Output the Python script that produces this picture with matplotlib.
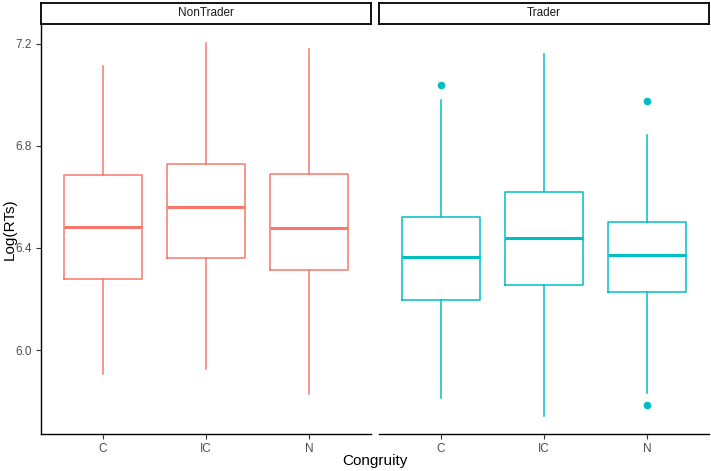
import matplotlib
matplotlib.use("Agg")
import matplotlib.pyplot as plt

plt.rcParams['font.family'] = ['Liberation Sans', 'DejaVu Sans']

# facet / category labels
panels = ['NonTrader', 'Trader']
categories = ['C', 'IC', 'N']
colors = {'NonTrader': '#F8766D', 'Trader': '#00BFC4'}

# box statistics (log RT)
whislo = {'NonTrader': [5.907, 5.924, 5.826], 'Trader': [5.813, 5.741, 5.833]}
q1 = {'NonTrader': [6.277, 6.360, 6.315], 'Trader': [6.195, 6.256, 6.226]}
med = {'NonTrader': [6.482, 6.561, 6.480], 'Trader': [6.363, 6.439, 6.371]}
q3 = {'NonTrader': [6.686, 6.731, 6.689], 'Trader': [6.520, 6.620, 6.503]}
whishi = {'NonTrader': [7.112, 7.204, 7.179], 'Trader': [6.982, 7.162, 6.842]}
fliers = {'NonTrader': [[], [], []], 'Trader': [[7.040], [], [6.978, 5.783]]}

yticks = [6.0, 6.4, 6.8, 7.2]

W, H = 711, 471
fig = plt.figure(figsize=(W / 100, H / 100), dpi=100)

panel_left = [41, 379]
panel_w = 330
panel_top, panel_bot = 24, 434
strip_top = 3

for k, name in enumerate(panels):
    x0 = panel_left[k]
    ax = fig.add_axes([x0 / W, (H - panel_bot) / H, panel_w / W, (panel_bot - panel_top) / H])
    col = colors[name]
    stats = []
    for i in range(3):
        stats.append(dict(whislo=whislo[name][i], q1=q1[name][i], med=med[name][i],
                          q3=q3[name][i], whishi=whishi[name][i], fliers=fliers[name][i]))
    ax.bxp(stats, positions=[1, 2, 3], widths=0.75, showcaps=False,
           boxprops=dict(color=col, linewidth=1.1),
           whiskerprops=dict(color=col, linewidth=1.1),
           medianprops=dict(color=col, linewidth=2.2),
           flierprops=dict(marker='o', markerfacecolor=col, markeredgecolor=col,
                           markersize=4.5, linestyle='none'))
    ax.set_xlim(0.4, 3.6)
    ax.set_ylim(5.6706, 7.2784)
    ax.set_xticks([1, 2, 3])
    ax.set_xticklabels(categories)
    ax.set_yticks(yticks)
    for s in ['top', 'right']:
        ax.spines[s].set_visible(False)
    ax.spines['bottom'].set_linewidth(1.0)
    ax.spines['left'].set_linewidth(1.0)
    ax.tick_params(axis='both', length=3.5, width=0.8, color='#333333',
                   labelcolor='#4D4D4D', labelsize=8.5, pad=3)
    if k == 0:
        ax.set_yticklabels(['6.0', '6.4', '6.8', '7.2'])
    else:
        ax.spines['left'].set_visible(False)
        ax.tick_params(axis='y', left=False, labelleft=False)

    # strip
    sax = fig.add_axes([x0 / W, (H - panel_top) / H, panel_w / W, (panel_top - strip_top) / H])
    sax.set_xticks([])
    sax.set_yticks([])
    for s in sax.spines.values():
        s.set_linewidth(1.3)
        s.set_color('black')
    sax.text(0.5, 0.5, name, ha='center', va='center', fontsize=8.5, color='#1A1A1A',
             transform=sax.transAxes)

fig.text(10 / W, 1 - 229 / H, 'Log(RTs)', rotation=90, ha='center', va='center', fontsize=11)
fig.text(375 / W, 1 - 461 / H, 'Congruity', ha='center', va='center', fontsize=11)

fig.savefig('out.png', dpi=100)
